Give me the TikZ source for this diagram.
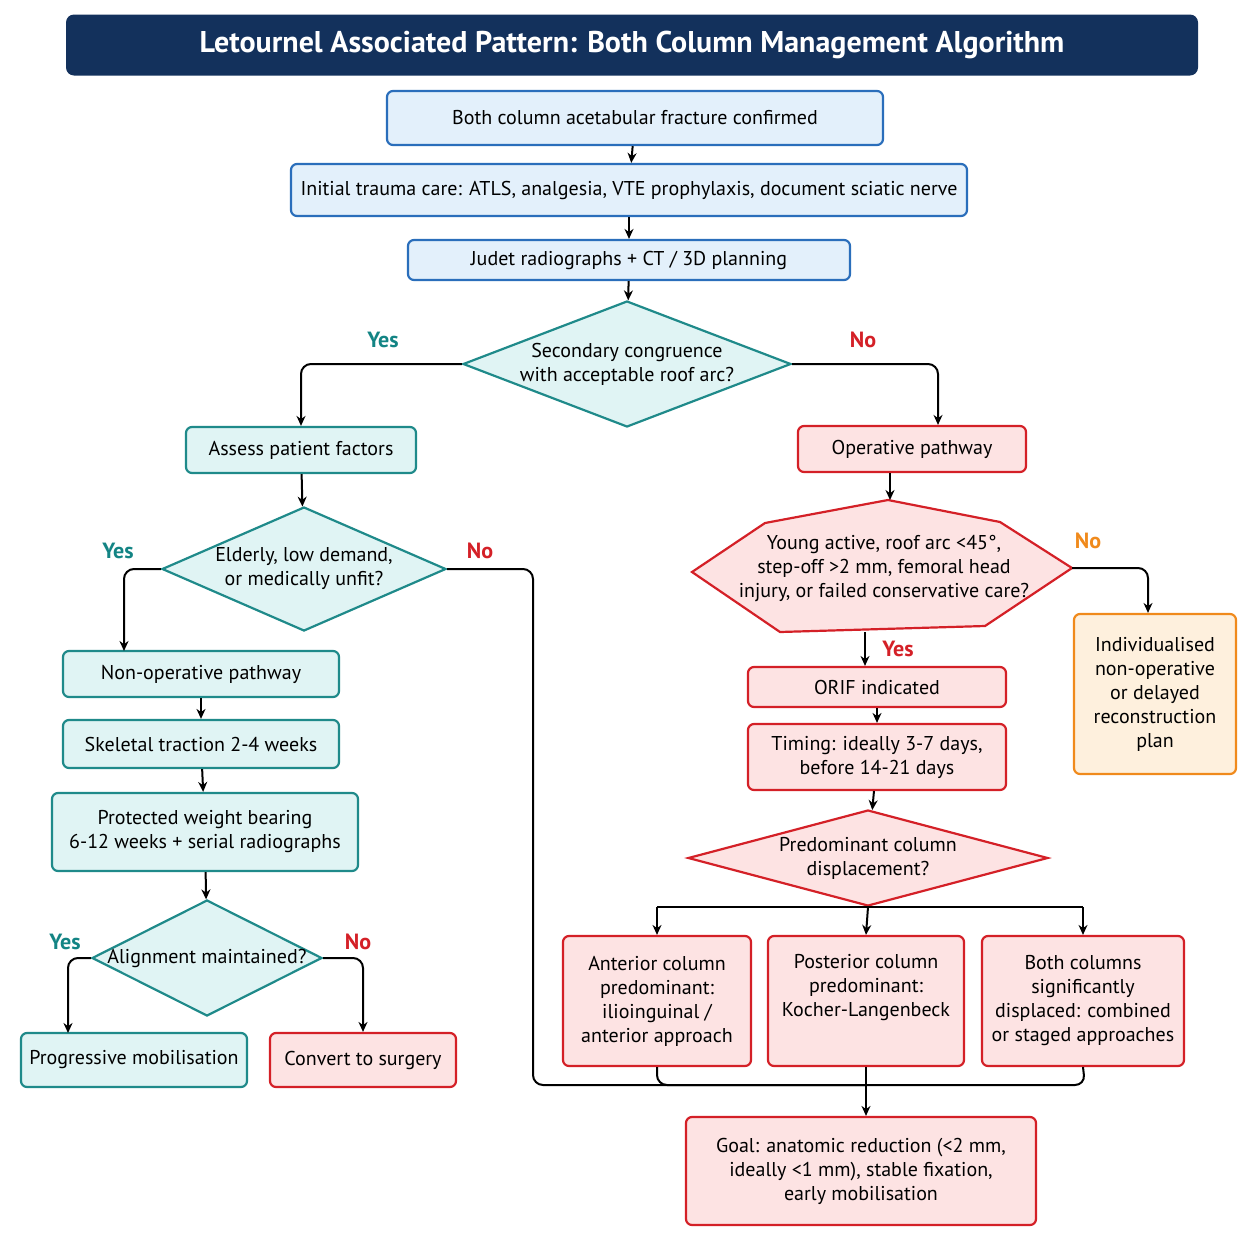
\documentclass[tikz,border=0pt]{standalone}
\usepackage{fontspec}
\setmainfont{PT Sans}
\usetikzlibrary{shapes.geometric,arrows.meta}
\definecolor{navy}{HTML}{13315C}
\definecolor{bfill}{HTML}{E3F0FB}\definecolor{bline}{HTML}{2A6EBB}
\definecolor{tfill}{HTML}{E0F4F4}\definecolor{tline}{HTML}{1F8A8A}
\definecolor{rfill}{HTML}{FDE3E3}\definecolor{rline}{HTML}{D42027}
\definecolor{ofill}{HTML}{FEF0DD}\definecolor{oline}{HTML}{F08A1C}
\definecolor{tyes}{HTML}{138484}
\begin{document}
\begin{tikzpicture}[x=0.5pt,y=-0.5pt,font=\fontsize{10}{12}\selectfont,
 box/.style={draw,rounded corners=3pt,line width=1.1pt,align=center,inner sep=2pt},
 blue/.style={box,fill=bfill,draw=bline},
 teal/.style={box,fill=tfill,draw=tline},
 red/.style={box,fill=rfill,draw=rline},
 orng/.style={box,fill=ofill,draw=oline},
 dia/.style={diamond,draw,line width=1.1pt,inner sep=0pt},
 arr/.style={-{Stealth[length=5pt,width=4.5pt]},line width=1pt,rounded corners=5pt},
 ln/.style={line width=1pt,rounded corners=5pt},
 lab/.style={font=\fontsize{11}{13}\selectfont\bfseries}]
\useasboundingbox (0,0) rectangle (1254,1254);
\node[fill=navy,rounded corners=4pt,minimum width=566pt,minimum height=30.5pt,text=white,font=\fontsize{15}{18}\selectfont\bfseries] (title) at (632,45) {Letournel Associated Pattern: Both Column Management Algorithm};
\node[blue,minimum width=248pt,minimum height=27pt] (n1) at (635,118) {Both column acetabular fracture confirmed};
\node[blue,minimum width=338pt,minimum height=26pt] (n2) at (629,190) {Initial trauma care: ATLS, analgesia, VTE prophylaxis, document sciatic nerve};
\node[blue,minimum width=221pt,minimum height=20pt] (n3) at (629,260) {Judet radiographs + CT / 3D planning};
\node[dia,fill=tfill,draw=tline,minimum width=164pt,minimum height=63pt] (d1) at (627,364) {};
\node[align=center] at (d1) {Secondary congruence\\with acceptable roof arc?};
\node[teal,minimum width=115pt,minimum height=23pt] (a1) at (301,450) {Assess patient factors};
\node[dia,fill=tfill,draw=tline,minimum width=142pt,minimum height=62pt] (d2) at (304,569) {};
\node[align=center] at (d2) {Elderly, low demand,\\or medically unfit?};
\node[red,minimum width=114pt,minimum height=23pt] (op) at (912,449) {Operative pathway};
\filldraw[fill=rfill,draw=rline,line width=1.1pt] (692,572)--(765,523)--(888,500)--(1000,522)--(1072,568)--(985,626)--(780,632)--cycle;
\coordinate (hn) at (890,500); \coordinate (he) at (1072,568); \coordinate (hs) at (865,632);
\node[align=center] (ht) at (884,568) {Young active, roof arc <45°,\\step-off >2 mm, femoral head\\injury, or failed conservative care?};
\node[orng,minimum width=81pt,minimum height=80pt] (ind) at (1155,694) {Individualised\\non-operative\\or delayed\\reconstruction\\plan};
\node[red,minimum width=129pt,minimum height=20pt] (orif) at (877,687) {ORIF indicated};
\node[red,minimum width=129pt,minimum height=33pt] (tim) at (877,757) {Timing: ideally 3-7 days,\\before 14-21 days};
\node[dia,fill=rfill,draw=rline,minimum width=180pt,minimum height=48pt] (d3) at (868,858) {};
\node[align=center] at (d3) {Predominant column\\displacement?};
\node[red,minimum width=94pt,minimum height=65pt] (ac) at (657,1001) {Anterior column\\predominant:\\ilioinguinal /\\anterior approach};
\node[red,minimum width=98pt,minimum height=65pt] (pc) at (866,1001) {Posterior column\\predominant:\\Kocher-Langenbeck\\\strut};
\node[red,minimum width=101pt,minimum height=65pt] (bc) at (1083,1001) {Both columns\\significantly\\displaced: combined\\or staged approaches};
\node[red,minimum width=175pt,minimum height=54pt] (goal) at (861,1171) {Goal: anatomic reduction (<2 mm,\\ideally <1 mm), stable fixation,\\early mobilisation};
\node[teal,minimum width=138pt,minimum height=23pt] (nonop) at (201,674) {Non-operative pathway};
\node[teal,minimum width=138pt,minimum height=24pt] (trac) at (201,744) {Skeletal traction 2-4 weeks};
\node[teal,minimum width=153pt,minimum height=39pt] (pwb) at (205,832) {Protected weight bearing\\6-12 weeks + serial radiographs};
\node[dia,fill=tfill,draw=tline,minimum width=115pt,minimum height=58pt] (d4) at (207,958) {};
\node at (d4) {Alignment maintained?};
\node[teal,minimum width=113pt,minimum height=27pt] (pm) at (134,1060) {Progressive mobilisation};
\node[red,minimum width=93pt,minimum height=27pt] (cs) at (363,1060) {Convert to surgery};
% arrows
\draw[arr] (n1)--(n2); \draw[arr] (n2)--(n3); \draw[arr] (n3)--(d1);
\draw[arr] (d1.west)-|(a1.north); \node[lab,text=tyes] at (383,340) {Yes};
\draw[arr] (d1.east)-|([xshift=13]op.north); \node[lab,text=rline] at (863,340) {No};
\draw[arr] (a1)--(d2);
\draw[arr] (d2.west)-|(124,651); \node[lab,text=tyes] at (118,551) {Yes};
\draw[ln] (d2.east)-|(533,1085)--(866,1085); \node[lab,text=rline] at (480,551) {No};
\draw[arr] (op.south-|hn)--(hn);
\draw[arr] (he)-|(ind.north-|1148,0); \node[lab,text=oline] at (1088,541) {No};
\draw[arr] (hs)--(hs|-orif.north); \node[lab,text=rline] at (898,649) {Yes};
\draw[arr] (orif)--(tim); \draw[arr] (tim)--(d3);
\draw[ln] (d3.south-|ac)--(d3.south-|bc);
\draw[arr] (d3.south-|ac)--(ac.north); \draw[arr] (d3.south)--(pc.north); \draw[arr] (d3.south-|bc)--(bc.north);
\draw[ln] (ac.south)|-(1085,1085)--(bc.south);
\draw[arr] (pc.south)--(pc.south|-goal.north);
\draw[arr] (nonop)--(trac); \draw[arr] (trac)--(pwb); \draw[arr] (pwb)--(d4);
\draw[arr] (d4.west)-|(68,1033); \node[lab,text=tyes] at (65,942) {Yes};
\draw[arr] (d4.east)-|(cs.north); \node[lab,text=rline] at (358,942) {No};
\end{tikzpicture}
\end{document}
